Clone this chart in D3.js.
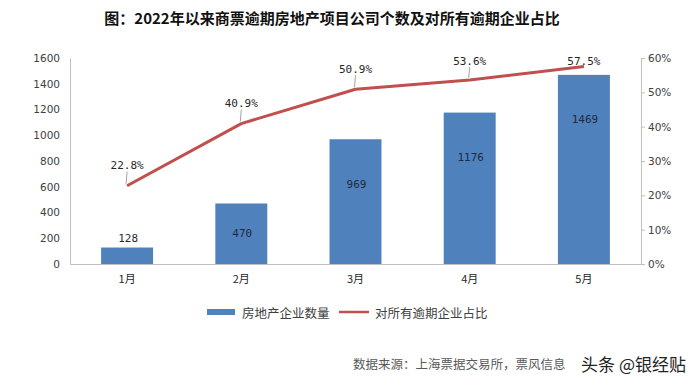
<!DOCTYPE html>
<html>
<head>
<meta charset="utf-8">
<script src="https://cdn.jsdelivr.net/npm/d3@7"></script>
<style>
  body { margin: 0; background: #fff; }
  svg { display: block; }
</style>
</head>
<body>
<div id="chart"></div>
<script>
// Chart data
const months = ["1月", "2月", "3月", "4月", "5月"];
const companyCounts = [128, 470, 969, 1176, 1469];
const overdueShare = [22.8, 40.9, 50.9, 53.6, 57.5];
const countTicks = [0, 200, 400, 600, 800, 1000, 1200, 1400, 1600];
const shareTicks = [0, 10, 20, 30, 40, 50, 60];

const titleText = "图：2022年以来商票逾期房地产项目公司个数及对所有逾期企业占比";
const barName = "房地产企业数量";
const lineName = "对所有逾期企业占比";
const sourceText = "数据来源：上海票据交易所，票风信息";
const watermark = "头条 @银经贴";

const BAR_COLOUR = "#4f81bd";
const LINE_COLOUR = "#c0504d";
const AXIS_COLOUR = "#bfbfbf";
const CJK = "'Noto Sans CJK SC', sans-serif";
const NUM = "'DejaVu Sans', sans-serif";
const MONO = "'DejaVu Sans Mono', monospace";

function drawChart() {
  const width = 694;
  const height = 387;
  const margin = { top: 58, right: 53, bottom: 123, left: 70 };
  const innerBottom = height - margin.bottom;

  const svg = d3
    .select("#chart")
    .append("svg")
    .attr("width", width)
    .attr("height", height);

  // Title
  svg
    .append("text")
    .attr("x", 332)
    .attr("y", 17)
    .attr("text-anchor", "middle")
    .attr("dominant-baseline", "central")
    .style("font-family", CJK)
    .style("font-weight", "bold")
    .style("font-size", "15px")
    .style("fill", "#111")
    .text(titleText);

  // Scales
  const x = d3
    .scaleBand()
    .domain(months)
    .range([margin.left, width - margin.right])
    .paddingInner(0.545)
    .paddingOuter(0.2725);

  const xPoint = (d) => x(d) + x.bandwidth() / 2;

  const yLeft = d3
    .scaleLinear()
    .domain([0, 1600])
    .range([innerBottom, margin.top]);

  const yRight = d3
    .scaleLinear()
    .domain([0, 60])
    .range([innerBottom, margin.top]);

  // Left axis
  const leftAxis = svg
    .append("g")
    .attr("transform", `translate(${margin.left},0)`)
    .call(
      d3
        .axisLeft(yLeft)
        .tickValues(countTicks)
        .tickFormat(d3.format("d"))
        .tickSize(0)
        .tickPadding(10)
    );
  leftAxis.select(".domain").attr("stroke", AXIS_COLOUR);
  leftAxis
    .selectAll("text")
    .style("font-family", NUM)
    .style("font-size", "10.5px")
    .style("fill", "#404040");

  // Right axis
  const rightAxis = svg
    .append("g")
    .attr("transform", `translate(${width - margin.right},0)`)
    .call(
      d3
        .axisRight(yRight)
        .tickValues(shareTicks)
        .tickSize(4)
        .tickSizeOuter(0)
        .tickPadding(3)
        .tickFormat((d) => d + "%")
    );
  rightAxis.selectAll(".domain, line").attr("stroke", AXIS_COLOUR);
  rightAxis
    .selectAll("text")
    .style("font-family", NUM)
    .style("font-size", "10.5px")
    .style("fill", "#404040");

  // Bottom axis
  const bottomAxis = svg
    .append("g")
    .attr("transform", `translate(0,${innerBottom})`)
    .call(d3.axisBottom(x).tickSize(0).tickPadding(11));
  bottomAxis.select(".domain").attr("stroke", AXIS_COLOUR);
  bottomAxis
    .selectAll("text")
    .style("font-family", CJK)
    .style("font-size", "11px")
    .style("fill", "#262626");

  // Bars
  const rows = months.map((m, i) => ({
    month: m,
    count: companyCounts[i],
    share: overdueShare[i],
  }));

  svg
    .selectAll(".bar")
    .data(rows)
    .enter()
    .append("rect")
    .attr("class", "bar")
    .attr("x", (d) => x(d.month))
    .attr("y", (d) => yLeft(d.count))
    .attr("width", x.bandwidth())
    .attr("height", (d) => innerBottom - yLeft(d.count))
    .attr("fill", BAR_COLOUR);

  // Bar labels: above short bars, near the top of tall ones
  svg
    .selectAll(".bar-label")
    .data(rows)
    .enter()
    .append("text")
    .attr("class", "bar-label")
    .attr("x", (d) => xPoint(d.month) + 1)
    .attr("y", (d) => {
      const top = yLeft(d.count);
      const h = innerBottom - top;
      if (h < 25) return top - 9;
      return Math.min(top + 45, top + h / 2);
    })
    .attr("text-anchor", "middle")
    .attr("dominant-baseline", "central")
    .style("font-family", MONO)
    .style("font-size", "11px")
    .style("fill", "#1f2a3a")
    .text((d) => d.count);

  // Line
  const line = d3
    .line()
    .x((d) => xPoint(d.month))
    .y((d) => yRight(d.share));

  svg
    .append("path")
    .datum(rows)
    .attr("d", line)
    .attr("fill", "none")
    .attr("stroke", LINE_COLOUR)
    .attr("stroke-width", 3)
    .attr("stroke-linejoin", "round");

  // Line labels (kept below the top of the plot)
  rows.forEach((d) => {
    const py = yRight(d.share);
    const ly = Math.max(py - 20, margin.top + 3);
    const lx = xPoint(d.month);
    if (py - (ly + 6) > 8) {
      svg
        .append("line")
        .attr("x1", lx)
        .attr("x2", lx - 1)
        .attr("y1", ly + 6)
        .attr("y2", py - 2)
        .attr("stroke", "#8c8c8c")
        .attr("stroke-width", 0.8);
    }
    svg
      .append("text")
      .attr("x", lx)
      .attr("y", ly)
      .attr("text-anchor", "middle")
      .attr("dominant-baseline", "central")
      .style("font-family", MONO)
      .style("font-size", "11px")
      .style("fill", "#262626")
      .text(d.share.toFixed(1) + "%");
  });

  // Legend
  const legend = svg.append("g").attr("transform", "translate(207,312)");
  legend
    .append("rect")
    .attr("x", 0)
    .attr("y", -3)
    .attr("width", 28)
    .attr("height", 6)
    .attr("fill", BAR_COLOUR);
  legend
    .append("text")
    .attr("x", 35)
    .attr("y", 0)
    .attr("dominant-baseline", "central")
    .style("font-family", CJK)
    .style("font-size", "12.5px")
    .style("fill", "#404040")
    .text(barName);
  legend
    .append("line")
    .attr("x1", 132)
    .attr("x2", 162)
    .attr("y1", 0)
    .attr("y2", 0)
    .attr("stroke", LINE_COLOUR)
    .attr("stroke-width", 2.5);
  legend
    .append("text")
    .attr("x", 168)
    .attr("y", 0)
    .attr("dominant-baseline", "central")
    .style("font-family", CJK)
    .style("font-size", "12.5px")
    .style("fill", "#404040")
    .text(lineName);

  // Source note and watermark
  svg
    .append("text")
    .attr("x", 353)
    .attr("y", 363)
    .attr("dominant-baseline", "central")
    .style("font-family", CJK)
    .style("font-size", "12.5px")
    .style("fill", "#595959")
    .text(sourceText);

  svg
    .append("text")
    .attr("x", 686)
    .attr("y", 363)
    .attr("text-anchor", "end")
    .attr("dominant-baseline", "central")
    .style("font-family", CJK)
    .style("font-size", "17px")
    .style("fill", "#222")
    .style("stroke", "#fff")
    .style("stroke-width", "3px")
    .style("paint-order", "stroke")
    .text(watermark);
}

drawChart();
</script>
</body>
</html>
